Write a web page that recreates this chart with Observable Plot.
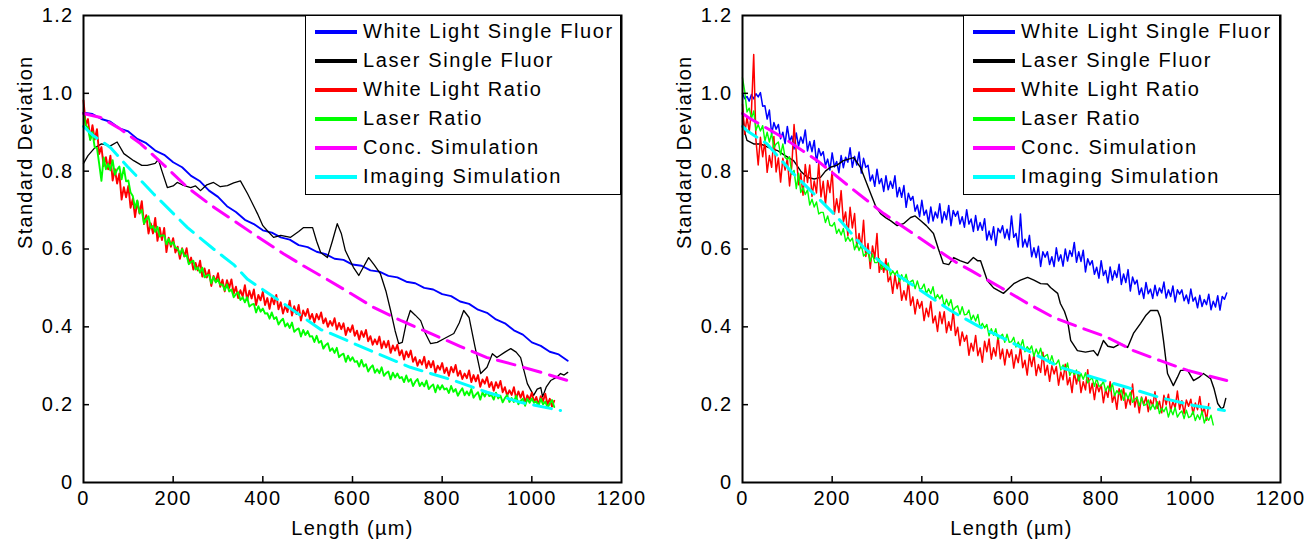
<!DOCTYPE html>
<html><head><meta charset="utf-8">
<script src="https://cdn.jsdelivr.net/npm/d3@7"></script>
<script src="https://cdn.jsdelivr.net/npm/@observablehq/plot@0.6"></script>
<style>
body{margin:0;background:#fff;}
#wrap{position:relative;width:1311px;height:545px;display:flex;font-family:"Liberation Sans",Arial,sans-serif;}
.legend{position:absolute;top:15px;height:180px;box-sizing:border-box;border:1.5px solid #000;background:#fff;padding-top:1px;}
.row{display:flex;align-items:center;height:29px;}
.sw{width:42px;height:4px;margin-left:9px;margin-right:6px;flex:none;}
.lab{font-size:20px;letter-spacing:1.6px;line-height:29px;white-space:nowrap;color:#000;}
</style></head><body><div id="wrap"></div><script>
const xTicks = [0,200,400,600,800,1000,1200];
const xTickLabels = ["0","200","400","600","800","1000","1200"];
const yTicks = [0,0.2,0.4,0.6,0.8,1.0,1.2];
const yTickLabels = ["0","0.2","0.4","0.6","0.8","1.0","1.2"];
const seriesNames = ["White Light Single Fluor","Laser Single Fluor","White Light Ratio","Laser Ratio","Conc. Simulation","Imaging Simulation"];
const seriesColors = ["#0000ff","#000000","#ff0000","#00ff00","#ff00ff","#00ffff"];
const xLabel = "Length (µm)";
const yLabel = "Standard Deviation";
const noisyStep = 5; // sampling step (µm) of the noisy series below, starting at 0

// ---------- Left panel ----------
const leftWhiteSingle = [[0,.95],[20,.947],[40,.934],[60,.927],[80,.91],[100,.902],[120,.883],[140,.872],[160,.853],[180,.842],[200,.823],[220,.81],[240,.788],[260,.774],[280,.75],[300,.734],[320,.71],[340,.695],[360,.675],[380,.664],[400,.648],[420,.642],[440,.63],[460,.624],[480,.61],[500,.605],[520,.593],[540,.587],[560,.575],[580,.572],[600,.56],[620,.557],[640,.545],[660,.542],[680,.531],[700,.527],[720,.516],[740,.512],[760,.5],[780,.496],[800,.484],[820,.479],[840,.465],[860,.459],[880,.444],[900,.436],[920,.419],[940,.409],[960,.391],[980,.38],[1000,.36],[1020,.351],[1040,.336],[1060,.329],[1080,.313]];
const leftLaserSingle = [[0,.82],[10,.84],[25,.86],[40,.87],[60,.865],[75,.875],[90,.845],[112,.827],[130,.815],[142,.815],[160,.82],[167,.83],[175,.8],[187,.758],[200,.762],[209,.771],[220,.765],[239,.758],[250,.762],[261,.75],[275,.765],[290,.771],[305,.76],[321,.763],[335,.77],[350,.775],[366,.742],[388,.691],[400,.66],[410,.647],[424,.63],[440,.635],[462,.63],[480,.645],[491,.655],[511,.655],[520,.62],[529,.591],[544,.578],[555,.62],[566,.665],[575,.64],[584,.596],[602,.553],[614,.532],[625,.555],[636,.578],[648,.56],[662,.537],[675,.49],[685,.442],[695,.39],[703,.357],[711,.36],[720,.41],[729,.442],[740,.43],[752,.416],[762,.385],[774,.357],[789,.36],[805,.37],[826,.383],[838,.41],[848,.442],[860,.424],[873,.35],[886,.28],[900,.296],[912,.331],[922,.321],[940,.335],[953,.344],[965,.335],[975,.321],[990,.254],[1004,.224],[1012,.24],[1020,.244],[1024,.22],[1032,.245],[1042,.262],[1055,.27],[1064,.28],[1072,.276],[1080,.283]];
const leftWhiteRatio = [.982,.919,.934,.882,.918,.881,.908,.844,.862,.813,
.836,.805,.84,.776,.805,.768,.794,.727,.759,.733,
.762,.706,.729,.682,.723,.691,.723,.664,.687,.64,
.666,.64,.68,.621,.655,.623,.654,.592,.629,.606,
.628,.591,.606,.575,.602,.581,.602,.563,.578,.547,
.564,.545,.57,.529,.55,.527,.546,.505,.531,.516,
.538,.503,.521,.491,.52,.50,.522,.485,.503,.474,
.494,.478,.507,.469,.493,.473,.496,.456,.482,.468,
.49,.456,.474,.446,.476,.458,.482,.445,.463,.434,
.454,.438,.467,.429,.453,.433,.456,.416,.442,.428,
.446,.42,.433,.411,.433,.419,.437,.409,.422,.40,
.415,.403,.422,.393,.41,.394,.409,.379,.398,.387,
.404,.377,.39,.367,.389,.374,.392,.363,.376,.354,
.368,.355,.375,.345,.363,.347,.364,.333,.352,.339,
.354,.327,.34,.316,.337,.322,.339,.31,.322,.30,
.315,.303,.323,.294,.312,.296,.312,.282,.30,.29,
.307,.281,.295,.274,.297,.283,.302,.274,.287,.266,
.28,.268,.288,.258,.276,.26,.276,.246,.265,.254,
.271,.245,.258,.236,.258,.243,.261,.232,.245,.223,
.237,.225,.245,.216,.234,.218,.234,.204,.224,.213,
.231,.206,.22,.199,.222,.209,.228,.201,.215,.195,
.21];
const leftLaserRatio = [.951,.918,.911,.88,.90,.861,.86,.819,.775,.835,
.805,.819,.802,.828,.791,.804,.812,.779,.809,.774,
.776,.745,.736,.705,.725,.693,.70,.665,.677,.684,
.654,.659,.644,.657,.632,.635,.635,.612,.626,.611,
.618,.603,.602,.586,.60,.581,.584,.561,.567,.57,
.547,.553,.539,.552,.527,.532,.534,.512,.528,.514,
.522,.508,.509,.494,.509,.491,.496,.476,.484,.489,
.469,.476,.463,.476,.452,.457,.459,.437,.453,.439,
.447,.434,.435,.421,.437,.42,.425,.406,.415,.421,
.401,.409,.397,.411,.387,.393,.396,.375,.392,.379,
.389,.375,.376,.361,.377,.359,.364,.344,.353,.358,
.338,.345,.333,.346,.322,.328,.331,.31,.326,.313,
.322,.31,.312,.298,.315,.298,.304,.285,.295,.301,
.282,.291,.281,.296,.274,.281,.285,.265,.282,.27,
.28,.268,.271,.258,.275,.259,.266,.248,.259,.266,
.248,.257,.247,.262,.24,.247,.252,.232,.25,.239,
.25,.239,.242,.23,.248,.233,.24,.223,.234,.242,
.224,.234,.224,.24,.218,.226,.232,.213,.232,.221,
.233,.222,.225,.213,.231,.216,.223,.206,.217,.225,
.207,.217,.207,.223,.201,.21,.215,.197,.215,.205,
.216,.205,.208,.197,.215,.201,.208,.192,.203,.212,
.194];
const leftConcSim = [[0,.948],[38,.938],[80,.91],[127,.871],[180,.815],[232,.758],[285,.712],[335,.673],[390,.63],[446,.588],[490,.557],[536,.527],[590,.49],[647,.45],[710,.415],[774,.383],[840,.35],[900,.321],[960,.303],[1012,.286],[1080,.262]];
const leftImagingSim = [[0,.915],[20,.893],[60,.861],[98,.812],[156,.742],[232,.655],[290,.6],[335,.56],[366,.522],[446,.46],[529,.393],[551,.383],[640,.339],[729,.296],[826,.262],[900,.232],[975,.206],[1064,.185]];

// ---------- Right panel ----------
const rightWhiteSingle = [1.0,.986,.992,.98,.997,.986,.999,.991,1.002,.967,
.968,.934,.957,.895,.925,.908,.92,.883,.90,.871,
.915,.877,.89,.857,.898,.864,.888,.872,.906,.852,
.876,.85,.879,.823,.858,.84,.85,.814,.831,.803,
.847,.811,.825,.796,.84,.809,.836,.823,.86,.81,
.838,.816,.849,.795,.833,.81,.815,.775,.79,.761,
.805,.768,.781,.748,.788,.752,.774,.756,.788,.734,
.758,.733,.763,.707,.743,.725,.735,.697,.713,.683,
.725,.687,.70,.667,.708,.672,.695,.68,.716,.667,
.696,.676,.712,.66,.699,.684,.697,.664,.683,.656,
.701,.664,.677,.645,.686,.648,.668,.648,.678,.623,
.646,.624,.657,.609,.653,.642,.66,.628,.651,.624,
.685,.63,.64,.605,.69,.605,.625,.605,.635,.58,
.603,.578,.607,.555,.593,.579,.593,.56,.58,.555,
.603,.569,.585,.556,.60,.569,.596,.581,.617,.566,
.593,.568,.597,.541,.575,.559,.57,.535,.553,.525,
.57,.532,.545,.513,.554,.52,.544,.527,.561,.509,
.536,.514,.547,.492,.528,.51,.52,.483,.50,.473,
.514,.485,.497,.473,.507,.48,.50,.487,.515,.474,
.495,.478,.505,.464,.495,.484,.495,.467,.482,.46,
.497,.466,.476,.449,.481,.452,.47,.457,.484,.444,
.466,.451,.48,.443,.478,.471,.487];
const rightLaserSingle = [[0,.95],[5,.9],[10,.879],[25,.87],[40,.87],[60,.86],[78,.853],[95,.84],[114,.827],[130,.8],[145,.784],[160,.78],[174,.784],[185,.8],[196,.81],[210,.815],[225,.827],[248,.835],[263,.81],[275,.775],[286,.742],[297,.71],[308,.691],[320,.68],[330,.673],[345,.66],[359,.665],[375,.681],[385,.685],[397,.673],[410,.66],[426,.64],[437,.6],[448,.563],[460,.56],[471,.578],[485,.57],[502,.563],[515,.578],[524,.57],[531,.57],[546,.519],[560,.5],[582,.486],[595,.5],[605,.511],[620,.52],[636,.527],[650,.52],[665,.511],[680,.51],[687,.501],[703,.486],[709,.46],[718,.44],[725,.416],[732,.365],[747,.339],[765,.335],[783,.339],[792,.326],[805,.365],[815,.35],[828,.347],[843,.357],[859,.347],[872,.383],[888,.409],[900,.43],[910,.442],[926,.442],[932,.424],[939,.365],[948,.28],[961,.249],[970,.27],[977,.288],[993,.288],[1006,.262],[1018,.27],[1028,.28],[1044,.267],[1052,.24],[1060,.203],[1068,.19],[1073,.193],[1078,.216]];
const rightWhiteRatio = [.972,.895,.939,.902,.955,1.10,.88,.816,.887,.837,
.876,.797,.84,.81,.889,.798,.834,.772,.833,.803,
.833,.762,.814,.92,.845,.765,.795,.738,.817,.771,
.816,.735,.775,.744,.821,.734,.774,.714,.776,.745,
.80,.69,.729,.694,.75,.669,.695,.634,.707,.654,
.691,.605,.64,.603,.674,.581,.614,.55,.608,.576,
.64,.54,.566,.54,.575,.516,.53,.486,.533,.498,
.524,.468,.493,.469,.517,.455,.477,.433,.47,.448,
.465,.416,.448,.426,.465,.41,.428,.388,.438,.408,
.439,.385,.413,.391,.441,.378,.399,.352,.387,.363,
.378,.327,.358,.338,.378,.326,.346,.309,.363,.336,
.369,.317,.346,.325,.377,.318,.343,.302,.342,.322,
.341,.294,.328,.308,.348,.295,.314,.276,.328,.298,
.329,.275,.303,.283,.335,.276,.301,.26,.30,.279,
.298,.25,.284,.264,.304,.251,.27,.231,.283,.253,
.284,.231,.259,.238,.29,.23,.255,.213,.253,.233,
.252,.205,.239,.219,.259,.206,.226,.188,.241,.212,
.244,.191,.22,.20,.253,.194,.22,.179,.22,.201,
.22,.182,.212,.197,.233,.19,.209,.179,.224,.20,
.227,.184,.208,.192,.235,.188,.21,.177,.212,.196,
.214,.175,.204,.187,.221,.177,.192,.16,.203];
const rightLaserRatio = [1.04,1.005,.952,.962,.935,.955,.905,.92,.903,.917,
.877,.90,.875,.897,.86,.87,.875,.842,.87,.835,
.83,.837,.792,.802,.755,.795,.745,.758,.74,.752,
.713,.728,.708,.721,.69,.694,.694,.668,.685,.661,
.659,.668,.64,.651,.636,.653,.62,.631,.62,.628,
.598,.614,.596,.611,.582,.588,.591,.568,.587,.565,
.565,.575,.548,.561,.546,.564,.532,.544,.534,.544,
.516,.534,.518,.535,.508,.516,.52,.498,.518,.497,
.499,.51,.485,.498,.485,.503,.471,.483,.472,.482,
.453,.471,.454,.47,.442,.45,.454,.432,.452,.431,
.432,.443,.418,.43,.415,.432,.398,.409,.397,.406,
.377,.395,.378,.395,.368,.376,.381,.36,.381,.36,
.362,.373,.348,.361,.348,.367,.336,.349,.34,.351,
.324,.343,.328,.345,.318,.325,.329,.306,.326,.304,
.305,.315,.289,.302,.288,.307,.275,.288,.278,.289,
.261,.28,.265,.282,.256,.264,.269,.247,.268,.247,
.249,.26,.235,.248,.235,.254,.223,.236,.227,.238,
.211,.23,.215,.232,.206,.214,.219,.197,.218,.198,
.20,.212,.187,.201,.188,.208,.177,.191,.182,.194,
.168,.188,.174,.193,.168,.178,.184,.164,.186,.167,
.17,.183,.159,.174,.162,.183,.153,.168,.16,.173,
.148];
const rightConcSim = [[0,.948],[13,.938],[91,.886],[167,.827],[241,.758],[315,.691],[413,.614],[480,.563],[509,.545],[576,.501],[636,.46],[694,.424],[754,.398],[814,.373],[872,.339],[932,.313],[993,.288],[1080,.262]];
const rightImagingSim = [[0,.915],[10,.904],[55,.87],[107,.801],[152,.75],[212,.681],[270,.604],[330,.545],[375,.511],[464,.442],[524,.403],[560,.383],[636,.339],[709,.296],[783,.27],[859,.244],[932,.218],[1006,.198],[1075,.185]];

const stepped = arr => arr.map((y, i) => [i * noisyStep, y]);

function makePanel(opts) {
  const W = opts.width, H = 545, mL = opts.marginLeft, mR = opts.marginRight, mT = 15, mB = 63;
  const plotW = W - mL - mR, plotH = H - mT - mB;
  const tickLenY = 1.2 * 6 / plotH, tickLenX = 1200 * 6 / plotW;
  const s = opts.series;
  const line = (data, i, sw, dash) => Plot.line(data, {x: d => d[0], y: d => d[1], stroke: seriesColors[i], strokeWidth: sw, strokeDasharray: dash, strokeLinejoin: "round"});
  return Plot.plot({
    width: W, height: H, marginLeft: mL, marginRight: mR, marginTop: mT, marginBottom: mB,
    x: {domain: [0, 1200]}, y: {domain: [0, 1.2]},
    style: {fontFamily: '"Liberation Sans", Arial, sans-serif', fontSize: "20px", letterSpacing: "1.3px", color: "#000", background: "#fff", overflow: "visible"},
    marks: [
      line(s[0].data, 0, s[0].sw),
      line(s[1].data, 1, s[1].sw),
      line(s[2].data, 2, s[2].sw),
      line(s[3].data, 3, s[3].sw),
      line(s[4].data, 4, 3, "18,9"),
      line(s[5].data, 5, 3, "18,9"),
      Plot.ruleX(xTicks.slice(1, -1), {x: d => d, y1: 0, y2: tickLenY, stroke: "#000", strokeWidth: 1.5}),
      Plot.ruleY(yTicks.slice(1, -1), {y: d => d, x1: 0, x2: tickLenX, stroke: "#000", strokeWidth: 1.5}),
      Plot.axisX(xTicks, {tickSize: 0, tickPadding: 8, label: null, tickFormat: d => xTickLabels[xTicks.indexOf(d)]}),
      Plot.axisY(yTicks, {tickSize: 0, tickPadding: 10, label: null, tickFormat: d => yTickLabels[yTicks.indexOf(d)]}),
      Plot.text([xLabel], {frameAnchor: "bottom", dy: 46, text: d => d, fontSize: 20, lineAnchor: "middle", fill: "#000"}),
      Plot.text([yLabel], {frameAnchor: "left", dx: -58, rotate: -90, text: d => d, fontSize: 20, lineAnchor: "middle", fill: "#000"}),
      Plot.frame({stroke: "#000", strokeWidth: 2})
    ]
  });
}

const wrap = document.getElementById("wrap");
const left = makePanel({width: 655, marginLeft: 83, marginRight: 34, series: [
  {data: leftWhiteSingle, sw: 1.9}, {data: leftLaserSingle, sw: 1.3},
  {data: stepped(leftWhiteRatio), sw: 1.9}, {data: stepped(leftLaserRatio), sw: 1.9},
  {data: leftConcSim}, {data: leftImagingSim}]});
const right = makePanel({width: 656, marginLeft: 87, marginRight: 31, series: [
  {data: stepped(rightWhiteSingle), sw: 1.5}, {data: rightLaserSingle, sw: 1.4},
  {data: stepped(rightWhiteRatio), sw: 1.5}, {data: stepped(rightLaserRatio), sw: 1.4},
  {data: rightConcSim}, {data: rightImagingSim}]});
wrap.appendChild(left);
wrap.appendChild(right);

function addLegend(leftPx, widthPx) {
  const box = document.createElement("div");
  box.className = "legend";
  box.style.left = leftPx + "px";
  box.style.width = widthPx + "px";
  seriesNames.forEach((name, i) => {
    const row = document.createElement("div");
    row.className = "row";
    const sw = document.createElement("div");
    sw.className = "sw";
    sw.style.background = seriesColors[i];
    const lab = document.createElement("span");
    lab.className = "lab";
    lab.textContent = name;
    row.appendChild(sw); row.appendChild(lab);
    box.appendChild(row);
  });
  wrap.appendChild(box);
}
addLegend(305, 316);
addLegend(963, 317);
</script></body></html>
